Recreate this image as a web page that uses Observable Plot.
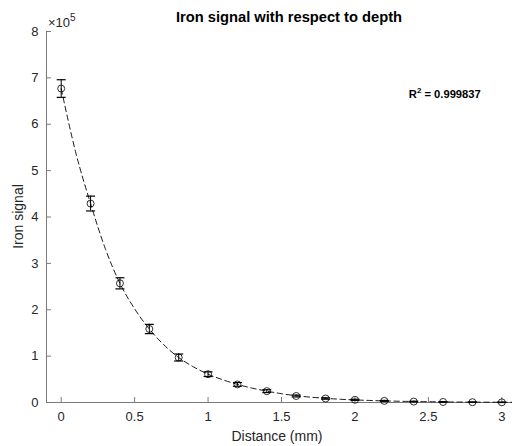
<!DOCTYPE html>
<html>
<head>
<meta charset="utf-8">
<script src="https://cdn.jsdelivr.net/npm/d3@7"></script>
<script src="https://cdn.jsdelivr.net/npm/@observablehq/plot@0.6"></script>
<style>
  html, body { margin: 0; padding: 0; background: #fff; }
  #chart svg { font-family: "Liberation Sans", Arial, Helvetica, sans-serif; display: block; }
</style>
</head>
<body>
<div id="chart"></div>
<script>
// Measured points (distance in mm, iron signal)
const distance = [0, 0.2, 0.4, 0.6, 0.8, 1.0, 1.2, 1.4, 1.6, 1.8, 2.0, 2.2, 2.4, 2.6, 2.8, 3.0];
const signal = [677000, 429000, 257000, 158500, 97000, 61000, 39000, 24500, 14000, 8600, 5800, 3500, 2000, 1200, 700, 400];
const errorHalf = [19000, 16000, 12000, 10000, 7500, 5000, 4000, 3000, 2000, 1500, 1200, 1000, 800, 600, 500, 400];

// Fitted curve
const fitDistance = [0, 0.1, 0.2, 0.3, 0.4, 0.5, 0.6, 0.7, 0.8, 0.9, 1.0, 1.1, 1.2, 1.3, 1.4, 1.5, 1.6, 1.7, 1.8, 1.9, 2.0, 2.1, 2.2, 2.3, 2.4, 2.5, 2.6, 2.7, 2.8, 2.9, 3.0, 3.1];
const fitSignal = [677000, 538000, 429000, 332000, 257000, 202000, 158500, 124000, 97000, 77000, 61000, 49000, 39000, 31000, 24500, 19000, 14500, 11500, 9000, 7000, 5600, 4400, 3500, 2700, 2100, 1700, 1300, 1000, 800, 650, 500, 400];

const xTicks = [0, 0.5, 1, 1.5, 2, 2.5, 3];
const yTicks = [0, 100000, 200000, 300000, 400000, 500000, 600000, 700000, 800000];

const titleText = "Iron signal with respect to depth";
const xLabel = "Distance (mm)";
const yLabel = "Iron signal";
const r2Label = "0.999837";

const points = distance.map((d, i) => ({x: d, y: signal[i], lo: signal[i] - errorHalf[i], hi: signal[i] + errorHalf[i]}));
const fit = fitDistance.map((d, i) => ({x: d, y: fitSignal[i]}));

const W = 512, H = 446;
const mL = 46, mR = -4, mT = 31, mB = 44;
const plotW = W - mL - mR, plotH = H - mT - mB;
const axisColor = "#7a7a7a";
const textColor = "#262626";

const capSymbol = {
  draw(ctx, size) {
    const r = Math.sqrt(size / Math.PI);
    ctx.moveTo(-r, 0);
    ctx.lineTo(r, 0);
  }
};

const chart = Plot.plot({
  width: W,
  height: H,
  marginLeft: mL,
  marginRight: mR,
  marginTop: mT,
  marginBottom: mB,
  x: {domain: [-0.1, 3.1]},
  y: {domain: [0, 800000]},
  style: {fontSize: "13px", color: textColor, background: "#fff"},
  marks: [
    Plot.ruleY([0], {stroke: axisColor, strokeWidth: 1}),
    Plot.ruleX([-0.1], {stroke: axisColor, strokeWidth: 1}),
    Plot.tickX(xTicks, {x: d => d, insetTop: plotH - 5, stroke: axisColor, strokeWidth: 1}),
    Plot.tickY(yTicks, {y: d => d, insetRight: plotW - 5, stroke: axisColor, strokeWidth: 1}),
    Plot.axisX(xTicks, {tickSize: 0, tickPadding: 9, label: null, fontSize: 13, color: textColor, tickFormat: d => String(d)}),
    Plot.axisY(yTicks, {tickSize: 0, tickPadding: 8, label: null, fontSize: 13, color: textColor, tickFormat: d => String(d / 100000)}),
    Plot.line(fit, {x: "x", y: "y", stroke: "black", strokeWidth: 0.9, strokeDasharray: "5.5,3.5", curve: "monotone-x"}),
    Plot.ruleX(points, {x: "x", y1: "lo", y2: "hi", stroke: "black", strokeWidth: 1}),
    Plot.dot(points, {x: "x", y: "lo", symbol: capSymbol, r: 4.5, stroke: "black", strokeWidth: 1.2, fill: "none"}),
    Plot.dot(points, {x: "x", y: "hi", symbol: capSymbol, r: 4.5, stroke: "black", strokeWidth: 1.2, fill: "none"}),
    Plot.dot(points, {x: "x", y: "y", r: 3.5, stroke: "black", strokeWidth: 0.8, fill: "none"})
  ]
});

const svg = d3.select(chart);
const sx = chart.scale("x"), sy = chart.scale("y");

// Title
svg.append("text")
  .attr("x", 289).attr("y", 22)
  .attr("text-anchor", "middle")
  .attr("font-size", 14.7).attr("font-weight", "bold").attr("fill", "black")
  .text(titleText);

// Axis labels
svg.append("text")
  .attr("x", 277).attr("y", 441)
  .attr("text-anchor", "middle")
  .attr("font-size", 14).attr("fill", textColor)
  .text(xLabel);

svg.append("text")
  .attr("transform", `translate(23,${mT + plotH / 2}) rotate(-90)`)
  .attr("text-anchor", "middle")
  .attr("font-size", 14).attr("fill", textColor)
  .text(yLabel);

// Exponent label ×10^5
const ex = svg.append("text")
  .attr("x", mL + 2).attr("y", mT - 4)
  .attr("text-anchor", "start")
  .attr("font-size", 13).attr("fill", textColor);
ex.append("tspan").text("\u00d710");
ex.append("tspan").attr("dy", -6).attr("font-size", 10).text("5");

// R^2 annotation
const r2 = svg.append("text")
  .attr("x", sx.apply(2.37)).attr("y", sy.apply(655000))
  .attr("text-anchor", "start")
  .attr("font-size", 11.2).attr("font-weight", "bold").attr("fill", "black");
r2.append("tspan").text("R");
r2.append("tspan").attr("dy", -5).attr("font-size", 8).text("2");
r2.append("tspan").attr("dy", 5).text(" = " + r2Label);

document.getElementById("chart").appendChild(chart);
</script>
</body>
</html>
